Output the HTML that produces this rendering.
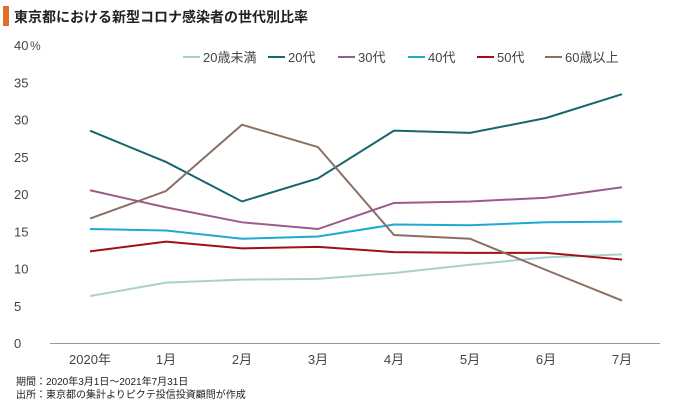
<!DOCTYPE html>
<html><head><meta charset="utf-8"><style>
body{margin:0;background:#fff;width:680px;height:405px;overflow:hidden;font-family:"Liberation Sans","Noto Sans CJK JP",sans-serif;}
</style></head><body>
<svg width="680" height="405" font-family="Liberation Sans, Noto Sans CJK JP, sans-serif">
<rect x="3" y="6" width="6" height="20" fill="#e0702a"/>
<text x="14" y="22" font-size="14" font-weight="bold" fill="#222">東京都における新型コロナ感染者の世代別比率</text>
<text x="30" y="50" font-size="12" fill="#444">%</text>
<g id="yaxis"></g><g id="xaxis"></g><g id="series"></g><g id="legend"></g>
<text x="16" y="385" font-size="10" fill="#222">期間：2020年3月1日～2021年7月31日</text>
<text x="16" y="398" font-size="10" fill="#222">出所：東京都の集計よりピクテ投信投資顧問が作成</text>
</svg>
<script>
const categories=["2020年","1月","2月","3月","4月","5月","6月","7月"];
const yTicks=[0,5,10,15,20,25,30,35,40];
const seriesNames=["20歳未満","20代","30代","40代","50代","60歳以上"];
const seriesColors=["#a9d0cf","#17666f","#9b5b8b","#1eaad6","#a30f0f","#8b6f63"];
const s0=[6.3,8.1,8.5,8.6,9.4,10.5,11.5,11.9];
const s1=[28.5,24.3,19.0,22.1,28.5,28.2,30.2,33.4];
const s2=[20.5,18.2,16.2,15.3,18.8,19.0,19.5,20.9];
const s3=[15.3,15.1,14.0,14.3,15.9,15.8,16.2,16.3];
const s4=[12.3,13.6,12.7,12.9,12.2,12.1,12.1,11.2];
const s5=[16.7,20.4,29.3,26.3,14.5,14.0,9.8,5.7];
const seriesData=[s0,s1,s2,s3,s4,s5];
const NS="http://www.w3.org/2000/svg";
const y=v=>343-v*(298/40);
const x=i=>90+i*(532/(categories.length-1));
function mk(t,a,p){const e=document.createElementNS(NS,t);for(const k in a)e.setAttribute(k,a[k]);p.appendChild(e);return e;}
const ya=document.getElementById('yaxis');
yTicks.forEach(t=>{const e=mk('text',{x:14,y:y(t)+5,'font-size':13,fill:'#444'},ya);e.textContent=t;

});
const xa=document.getElementById('xaxis');
const ax=mk('line',{x1:50,x2:660,y1:343.5,y2:343.5,stroke:'#999','stroke-width':1},xa);


categories.forEach((c,i)=>{const e=mk('text',{x:x(i),y:364,'font-size':13,fill:'#444','text-anchor':'middle'},xa);e.textContent=c;

});
const sg=document.getElementById('series');
seriesData.forEach((d,si)=>{const p=mk('polyline',{points:d.map((v,i)=>x(i)+','+y(v)).join(' '),fill:'none',stroke:seriesColors[si],'stroke-width':2},sg);

});
const lg=document.getElementById('legend');
const lx=[183,268,338,408,477,545];
seriesNames.forEach((n,i)=>{const g=mk('g',{},lg);


mk('line',{x1:lx[i],x2:lx[i]+17,y1:57,y2:57,stroke:seriesColors[i],'stroke-width':2},g);
const t=mk('text',{x:lx[i]+20,y:62,'font-size':13,fill:'#444'},g);t.textContent=n;});
</script>
</body></html>
